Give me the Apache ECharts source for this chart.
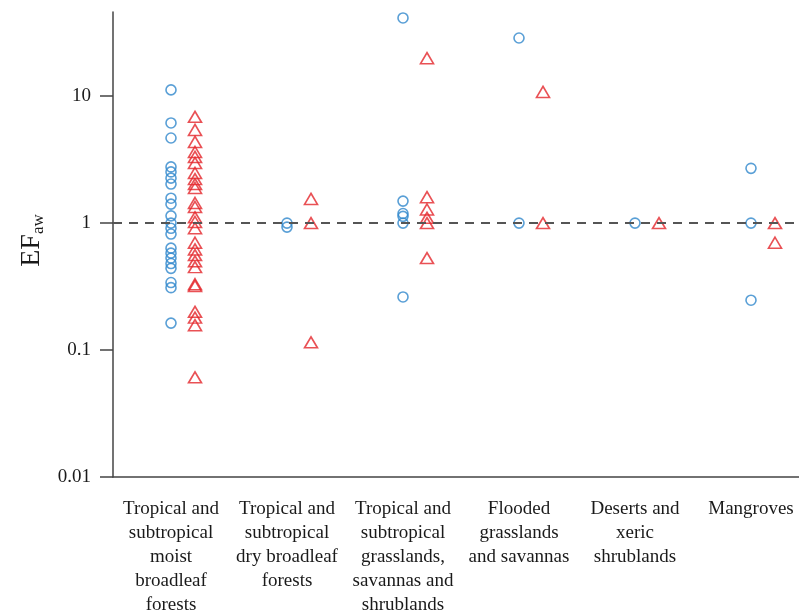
<!DOCTYPE html>
<html>
<head>
<meta charset="utf-8">
<script src="https://cdn.jsdelivr.net/npm/echarts@6/dist/echarts.min.js"></script>
<style>html,body{margin:0;padding:0;background:#fff;}#c{width:799px;height:611px;}</style>
</head>
<body>
<div id="c"></div>
<script>
var categories = [
  'Tropical and\nsubtropical\nmoist\nbroadleaf\nforests',
  'Tropical and\nsubtropical\ndry broadleaf\nforests',
  'Tropical and\nsubtropical\ngrasslands,\nsavannas and\nshrublands',
  'Flooded\ngrasslands\nand savannas',
  'Deserts and\nxeric\nshrublands',
  'Mangroves'
];
// circle series (blue) values per category
var circles1 = [11.2, 6.15, 4.68, 2.77, 2.53, 2.26, 2.03, 1.57, 1.41, 1.14, 1.0, 0.91, 0.82, 0.635, 0.58, 0.53, 0.48, 0.44, 0.34, 0.31, 0.163];
var circles2 = [1.0, 0.93];
var circles3 = [41.3, 1.49, 1.19, 1.13, 1.0, 0.262];
var circles4 = [28.7, 1.0];
var circles5 = [1.0];
var circles6 = [2.7, 1.0, 0.247];
// triangle series (red) values per category
var tri1 = [6.87, 5.42, 4.36, 3.63, 3.32, 2.98, 2.48, 2.22, 2.03, 1.89, 1.44, 1.34, 1.11, 1.02, 0.91, 0.70, 0.62, 0.56, 0.50, 0.45, 0.33, 0.32, 0.20, 0.18, 0.157, 0.061];
var tri2 = [1.55, 1.0, 0.115];
var tri3 = [19.9, 1.6, 1.28, 1.1, 1.0, 0.53];
var tri4 = [10.8, 1.0];
var tri5 = [1.0];
var tri6 = [1.0, 0.70];
var yTicks = [0.01, 0.1, 1, 10];

var circleGroups = [circles1, circles2, circles3, circles4, circles5, circles6];
var triGroups = [tri1, tri2, tri3, tri4, tri5, tri6];
function toPoints(groups) {
  var out = [];
  groups.forEach(function (g, i) { g.forEach(function (v) { out.push([i, v]); }); });
  return out;
}
var serif = "'Liberation Serif','Times New Roman',serif";
var chart = echarts.init(document.getElementById('c'), null, {renderer: 'canvas'});
chart.setOption({
  animation: false,
  backgroundColor: '#fff',
  grid: {left: 113, top: 12, height: 465, width: 696, containLabel: false, outerBoundsMode: 'none'},
  xAxis: {
    type: 'category',
    data: categories,
    boundaryGap: true,
    axisLine: {lineStyle: {color: '#444', width: 1.5}},
    axisTick: {alignWithLabel: true, length: 13, lineStyle: {color: '#444', width: 1.5}},
    axisLabel: {interval: 0, margin: 20, color: '#1a1a1a', fontFamily: serif, fontSize: 19, lineHeight: 24},
    splitLine: {show: false}
  },
  yAxis: {
    type: 'log',
    logBase: 10,
    min: 0.01,
    max: 46,
    name: '{a|EF}{b|aw}',
    nameLocation: 'middle',
    nameGap: 61,
    nameRotate: 90,
    nameTextStyle: {
      color: '#1a1a1a',
      padding: [0, 0, 0, 8],
      rich: {
        a: {fontFamily: serif, fontSize: 28, lineHeight: 30, color: '#1a1a1a'},
        b: {fontFamily: serif, fontSize: 17, lineHeight: 12, verticalAlign: 'bottom', color: '#1a1a1a'}
      }
    },
    axisLine: {show: true, lineStyle: {color: '#444', width: 1.5}},
    axisTick: {show: true, length: 13, customValues: yTicks, lineStyle: {color: '#444', width: 1.5}},
    axisLabel: {margin: 22, customValues: yTicks, color: '#1a1a1a', fontFamily: serif, fontSize: 19,
      formatter: function (v) { return String(+v.toPrecision(3)); }},
    splitLine: {show: false},
    minorTick: {show: false}
  },
  series: [
    {
      type: 'scatter',
      data: toPoints(circleGroups),
      symbol: 'circle',
      symbolSize: 10,
      itemStyle: {color: 'rgba(0,0,0,0)', borderColor: '#2f87cc', borderWidth: 1.6},
      markLine: {
        silent: true,
        symbol: 'none',
        label: {show: false},
        lineStyle: {color: '#555', type: [9, 7], width: 2},
        data: [{yAxis: 1}]
      },
      z: 3
    },
    {
      type: 'scatter',
      data: toPoints(triGroups),
      symbol: 'triangle',
      symbolSize: [13, 11],
      symbolOffset: [24, 0],
      itemStyle: {color: 'rgba(0,0,0,0)', borderColor: '#e3262b', borderWidth: 1.6},
      z: 3
    }
  ]
});
</script>
</body>
</html>
